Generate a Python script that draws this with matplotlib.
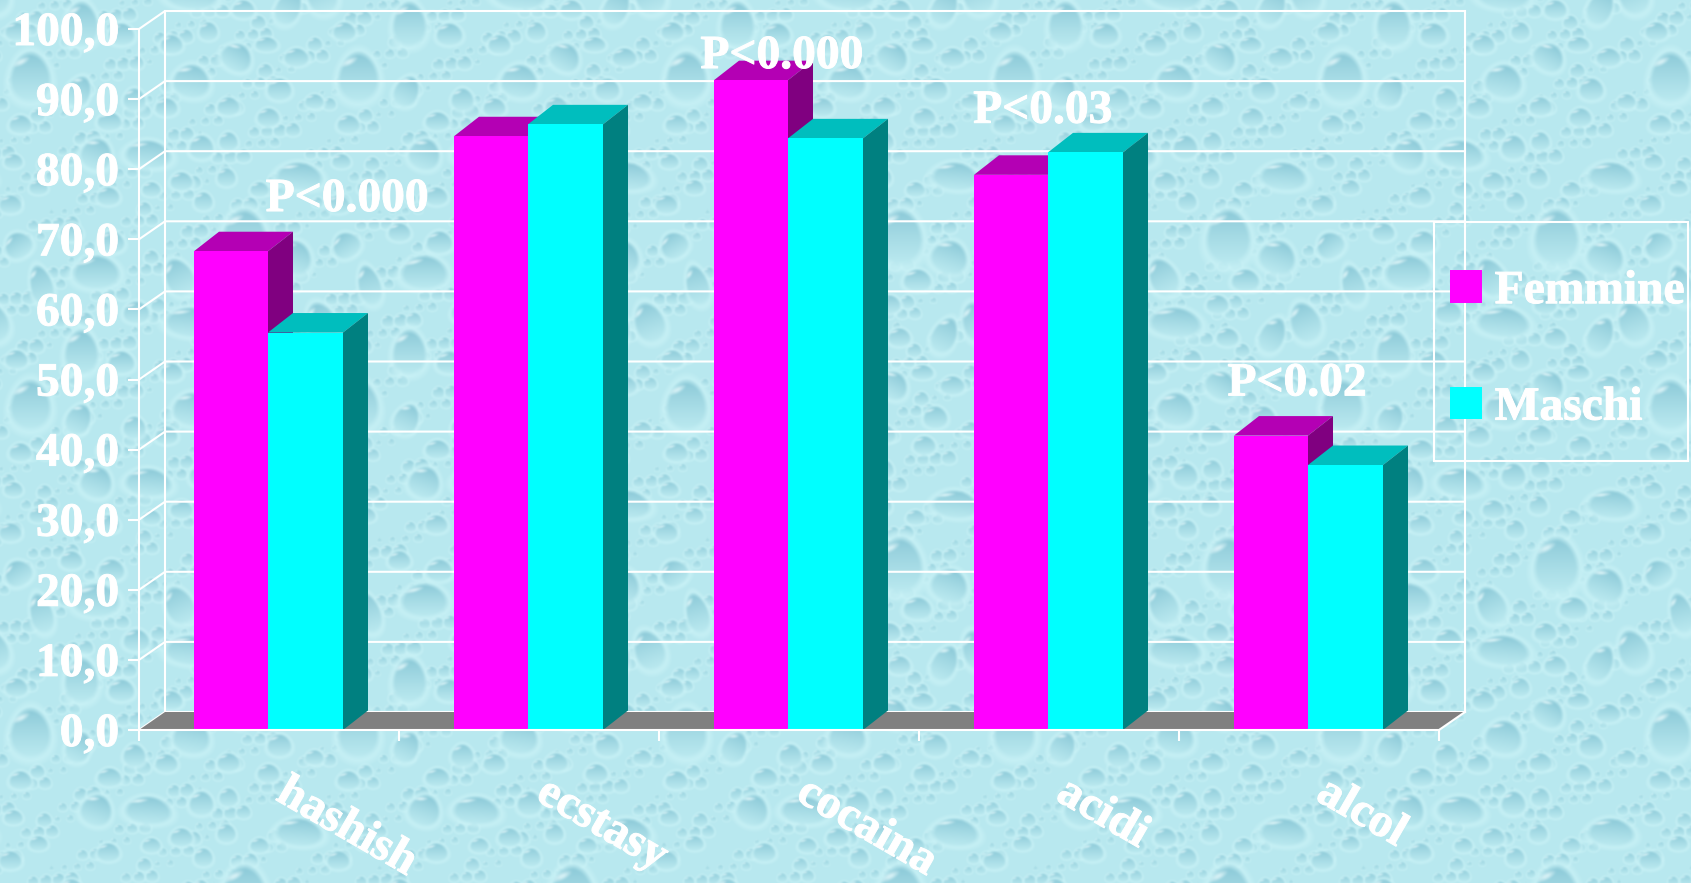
import numpy as np
import matplotlib
matplotlib.use("Agg")
import matplotlib.pyplot as plt
import matplotlib.patheffects as pe
from matplotlib.patches import Rectangle
from matplotlib.transforms import ScaledTranslation

categories = ["hashish", "ecstasy", "cocaina", "acidi", "alcol"]
femmine = [68.3, 84.7, 92.7, 79.2, 42.0]
maschi = [56.7, 86.4, 84.4, 82.4, 37.8]
yticks = [0, 10, 20, 30, 40, 50, 60, 70, 80, 90, 100]
p_labels = ["P<0.000", "P<0.000", "P<0.03", "P<0.02"]
p_x = [0.30, 1.972, 2.976, 3.954]
p_y = [75.6, 96.0, 88.2, 49.3]

W, H = 1691, 883
plt.rcParams["font.family"] = ["Liberation Serif", "DejaVu Serif"]
plt.rcParams["font.weight"] = "bold"
FS = 34.2
LW = 1.5
WHITE = "white"
HEAVY = [pe.withStroke(linewidth=0.7, foreground=WHITE)]

# ---------- decorative water-drop wallpaper (a repeating tile) ----------
T = 328
# u, v, rx, ry, tilt (degrees), in tile pixels
big_drops = [
    (193, 25, 24, 30, 0), (242, 45, 20, 18, 20), (295, 33, 15, 14, -30),
    (128, 65, 15, 21, -25), (210, 68, 15, 12, 0), (140, 110, 28, 16, 5),
    (270, 110, 16, 22, -20), (237, 123, 13, 20, 25), (182, 92, 12, 10, 0),
    (318, 73, 12, 22, -15), (192, 125, 12, 10, 0), (157, 147, 10, 10, 0),
    (120, 160, 12, 10, 0), (293, 147, 12, 10, 0), (215, 160, 12, 8, 0),
    (185, 173, 17, 15, 30), (245, 173, 13, 10, 0), (140, 197, 20, 18, 10),
    (307, 193, 22, 27, 0), (228, 205, 13, 12, 0), (83, 215, 12, 12, 0),
    (115, 223, 12, 10, 0), (177, 222, 12, 10, 0), (217, 233, 12, 10, 0),
    (58, 237, 13, 10, 0), (297, 240, 12, 10, 0), (263, 217, 10, 8, 0),
    (177, 257, 10, 10, 0), (150, 263, 13, 13, 0), (45, 270, 17, 17, 20),
    (97, 270, 25, 15, 5), (130, 297, 12, 10, 0), (248, 292, 25, 15, 5),
    (175, 293, 10, 10, 0), (208, 305, 10, 8, 0), (290, 277, 10, 8, 0),
    (315, 303, 10, 8, 0), (100, 305, 10, 8, 0), (57, 312, 12, 10, 0),
    (27, 207, 13, 17, 25), (287, 320, 12, 10, 0), (152, 317, 10, 10, 0),
    (45, 60, 25, 18, 0), (30, 140, 18, 24, 0), (70, 150, 14, 12, 0),
    (60, 30, 14, 12, 0), (20, 20, 12, 10, 0), (85, 100, 14, 12, 0),
]
small_drops = [((i * 0.6180340) % 1 * T, (i * 0.7548777) % 1 * T,
                2.5 + (i * 0.5698403) % 1 * 5.5) for i in range(320)]

BASE = np.array([0xB8, 0xE8, 0xEF], float)
DARK = np.array([0x84, 0xC4, 0xD4], float)
LIGHT = np.array([0xBD, 0xEB, 0xF1], float)
HALO = np.array([0xCB, 0xF3, 0xF7], float)
HILITE = np.array([0xE8, 0xFA, 0xFC], float)


def blend(img, iy, ix, colour, alpha):
    view = img[np.ix_(iy, ix)]
    img[np.ix_(iy, ix)] = view * (1 - alpha[..., None]) + colour * alpha[..., None]


def add_drop(img, u, v, rx, ry, tilt):
    r = int(max(rx, ry) * 1.5) + 2
    xs = np.arange(int(u) - r, int(u) + r + 1)
    ys = np.arange(int(v) - r, int(v) + r + 1)
    ix, iy = xs % T, ys % T
    X, Y = np.meshgrid(xs - u, ys - v)
    a = np.deg2rad(tilt)
    px = X * np.cos(a) + Y * np.sin(a)
    py = -X * np.sin(a) + Y * np.cos(a)
    rxe = rx * (1 + 0.16 * np.clip(py / ry, -1, 1))
    d = np.sqrt((px / rxe) ** 2 + (py / ry) ** 2)
    blend(img, iy, ix, HALO, np.clip((1.28 - d) / 0.28, 0, 1) * 0.7)
    strength = min(1.0, 0.65 + max(rx, ry) / 40)
    dark = LIGHT * (1 - strength) + DARK * strength
    t = np.clip((py / ry + 1) / 2, 0, 1)[..., None] ** 0.75
    col = dark * (1 - t) + LIGHT * t
    alpha = np.clip((1.0 - d) / 0.22, 0, 1)[..., None]
    view = img[np.ix_(iy, ix)]
    img[np.ix_(iy, ix)] = view * (1 - alpha) + col * alpha
    hx = (px + 0.42 * rx) / (0.32 * rx)
    hy = (py + 0.58 * ry + 0.35 * (px + 0.42 * rx) * ry / rx) / (0.12 * ry)
    blend(img, iy, ix, HILITE, np.clip(1.3 - np.hypot(hx, hy), 0, 1) * 0.75)


tile = np.ones((T, T, 3)) * BASE
for u, v, r in small_drops:
    add_drop(tile, u, v, r, r * 0.95, 0)
for drop in big_drops:
    add_drop(tile, *drop)
for _ in range(2):
    tile = (tile * 2 + np.roll(tile, 1, 0) + np.roll(tile, -1, 0)
            + np.roll(tile, 1, 1) + np.roll(tile, -1, 1)) / 6
wall = np.tile(tile, (H // T + 2, W // T + 2, 1))
ox, oy = (T - (1363 % T)) % T, (T - (540 % T)) % T
wall = wall[oy:oy + H, ox:ox + W]

fig = plt.figure(figsize=(W / 100, H / 100), dpi=100)
bg = fig.add_axes([0, 0, 1, 1], zorder=0)
bg.imshow(wall.astype(np.uint8), extent=(0, W, H, 0), aspect="auto", interpolation="nearest")
bg.axis("off")

# ---------- chart ----------
L, R, B, TOP = 139, 1439, 730, 29
ax = fig.add_axes([L / W, 1 - B / H, (R - L) / W, (B - TOP) / H], zorder=1)
ax.patch.set_visible(False)
ax.set_xlim(-0.5, 4.5)
ax.set_ylim(0, 100)
xscale = (R - L) / 5      # px per category
yscale = (B - TOP) / 100  # px per unit
dx, dy = 26 / xscale, 18 / yscale
bdx, bdy = 25 / xscale, 19.5 / yscale
bwf, bwm, gap = 74 / xscale, 75 / xscale, 1 / xscale
x = np.arange(len(categories))

for v in yticks:
    ax.plot([-0.5, -0.5 + dx, 4.5 + dx], [v, v + dy, v + dy], color=WHITE, lw=LW,
            clip_on=False, zorder=1, solid_joinstyle="miter")
ax.plot([-0.5 + dx] * 2, [0 + dy, 100 + dy], color=WHITE, lw=LW, clip_on=False, zorder=1)
ax.plot([4.5 + dx] * 2, [0 + dy, 100 + dy], color=WHITE, lw=LW, clip_on=False, zorder=1)
ax.fill([-0.5, 4.5, 4.5 + dx, -0.5 + dx], [0, 0, dy, dy], color="#808080", lw=0,
        clip_on=False, zorder=1.5)
ax.plot([4.5, 4.5 + dx], [0, dy], color=WHITE, lw=LW, clip_on=False, zorder=1.6)


def bar3d(x0, vals, bw, front, top, side, label, z):
    ax.bar(x0, vals, bw, align="edge", color=front, linewidth=0, label=label, zorder=z + 0.2)
    for xi, v in zip(x0, vals):
        ax.fill([xi, xi + bw, xi + bw + bdx, xi + bdx], [v, v, v + bdy, v + bdy],
                color=top, lw=0, clip_on=False, zorder=z)
        ax.fill([xi + bw, xi + bw + bdx, xi + bw + bdx, xi + bw], [0, bdy, v + bdy, v],
                color=side, lw=0, clip_on=False, zorder=z)


bar3d(x - bwf - gap, femmine, bwf, "#FF00FF", "#B400B4", "#800080", "Femmine", 2)
bar3d(x - gap, maschi, bwm, "#00FFFF", "#00BEBE", "#008080", "Maschi", 3)

for s in ("top", "right"):
    ax.spines[s].set_visible(False)
for s in ("left", "bottom"):
    ax.spines[s].set_color(WHITE)
    ax.spines[s].set_linewidth(LW)
    ax.spines[s].set_zorder(5)

ax.set_yticks(yticks, [f"{v:.1f}".replace(".", ",") for v in yticks],
              fontsize=FS, color=WHITE, fontweight="bold")
ax.tick_params(axis="y", length=8, width=LW, color=WHITE, pad=6.5)

ax.set_xticks(x, categories, fontsize=FS, color=WHITE, fontweight="bold", rotation=-30,
              ha="left", va="center", rotation_mode="anchor")
ax.set_xticks(np.arange(-0.5, 5, 1), minor=True)
ax.tick_params(axis="x", which="major", length=0, pad=43)
ax.tick_params(axis="x", which="minor", length=8, width=LW, color=WHITE)
shift = ScaledTranslation(11 / 100, 0, fig.dpi_scale_trans)
for lab in ax.get_xticklabels():
    lab.set_transform(lab.get_transform() + shift)
    lab.set_path_effects(HEAVY)
for lab in ax.get_yticklabels():
    lab.set_path_effects(HEAVY)

for lab, px_, py_ in zip(p_labels, p_x, p_y):
    ax.text(px_, py_, lab, color=WHITE, fontsize=FS, fontweight="bold",
            ha="center", va="center", zorder=10, clip_on=False, path_effects=HEAVY)

# legend box and entries
fig.add_artist(Rectangle((1434 / W, 1 - 461 / H), 254 / W, 239 / H, transform=fig.transFigure,
                         facecolor="none", edgecolor=WHITE, linewidth=LW, zorder=4))
leg = ax.legend(loc="center left", bbox_to_anchor=(1450 / W, 1 - 350 / H),
                bbox_transform=fig.transFigure, frameon=False, fontsize=FS,
                handlelength=0.67, handleheight=0.67, handletextpad=0.27,
                labelspacing=1.55, borderpad=0, borderaxespad=0)
leg.set_zorder(11)
for t in leg.get_texts():
    t.set_color(WHITE)
    t.set_path_effects(HEAVY)

fig.savefig("out.png", dpi=100)
